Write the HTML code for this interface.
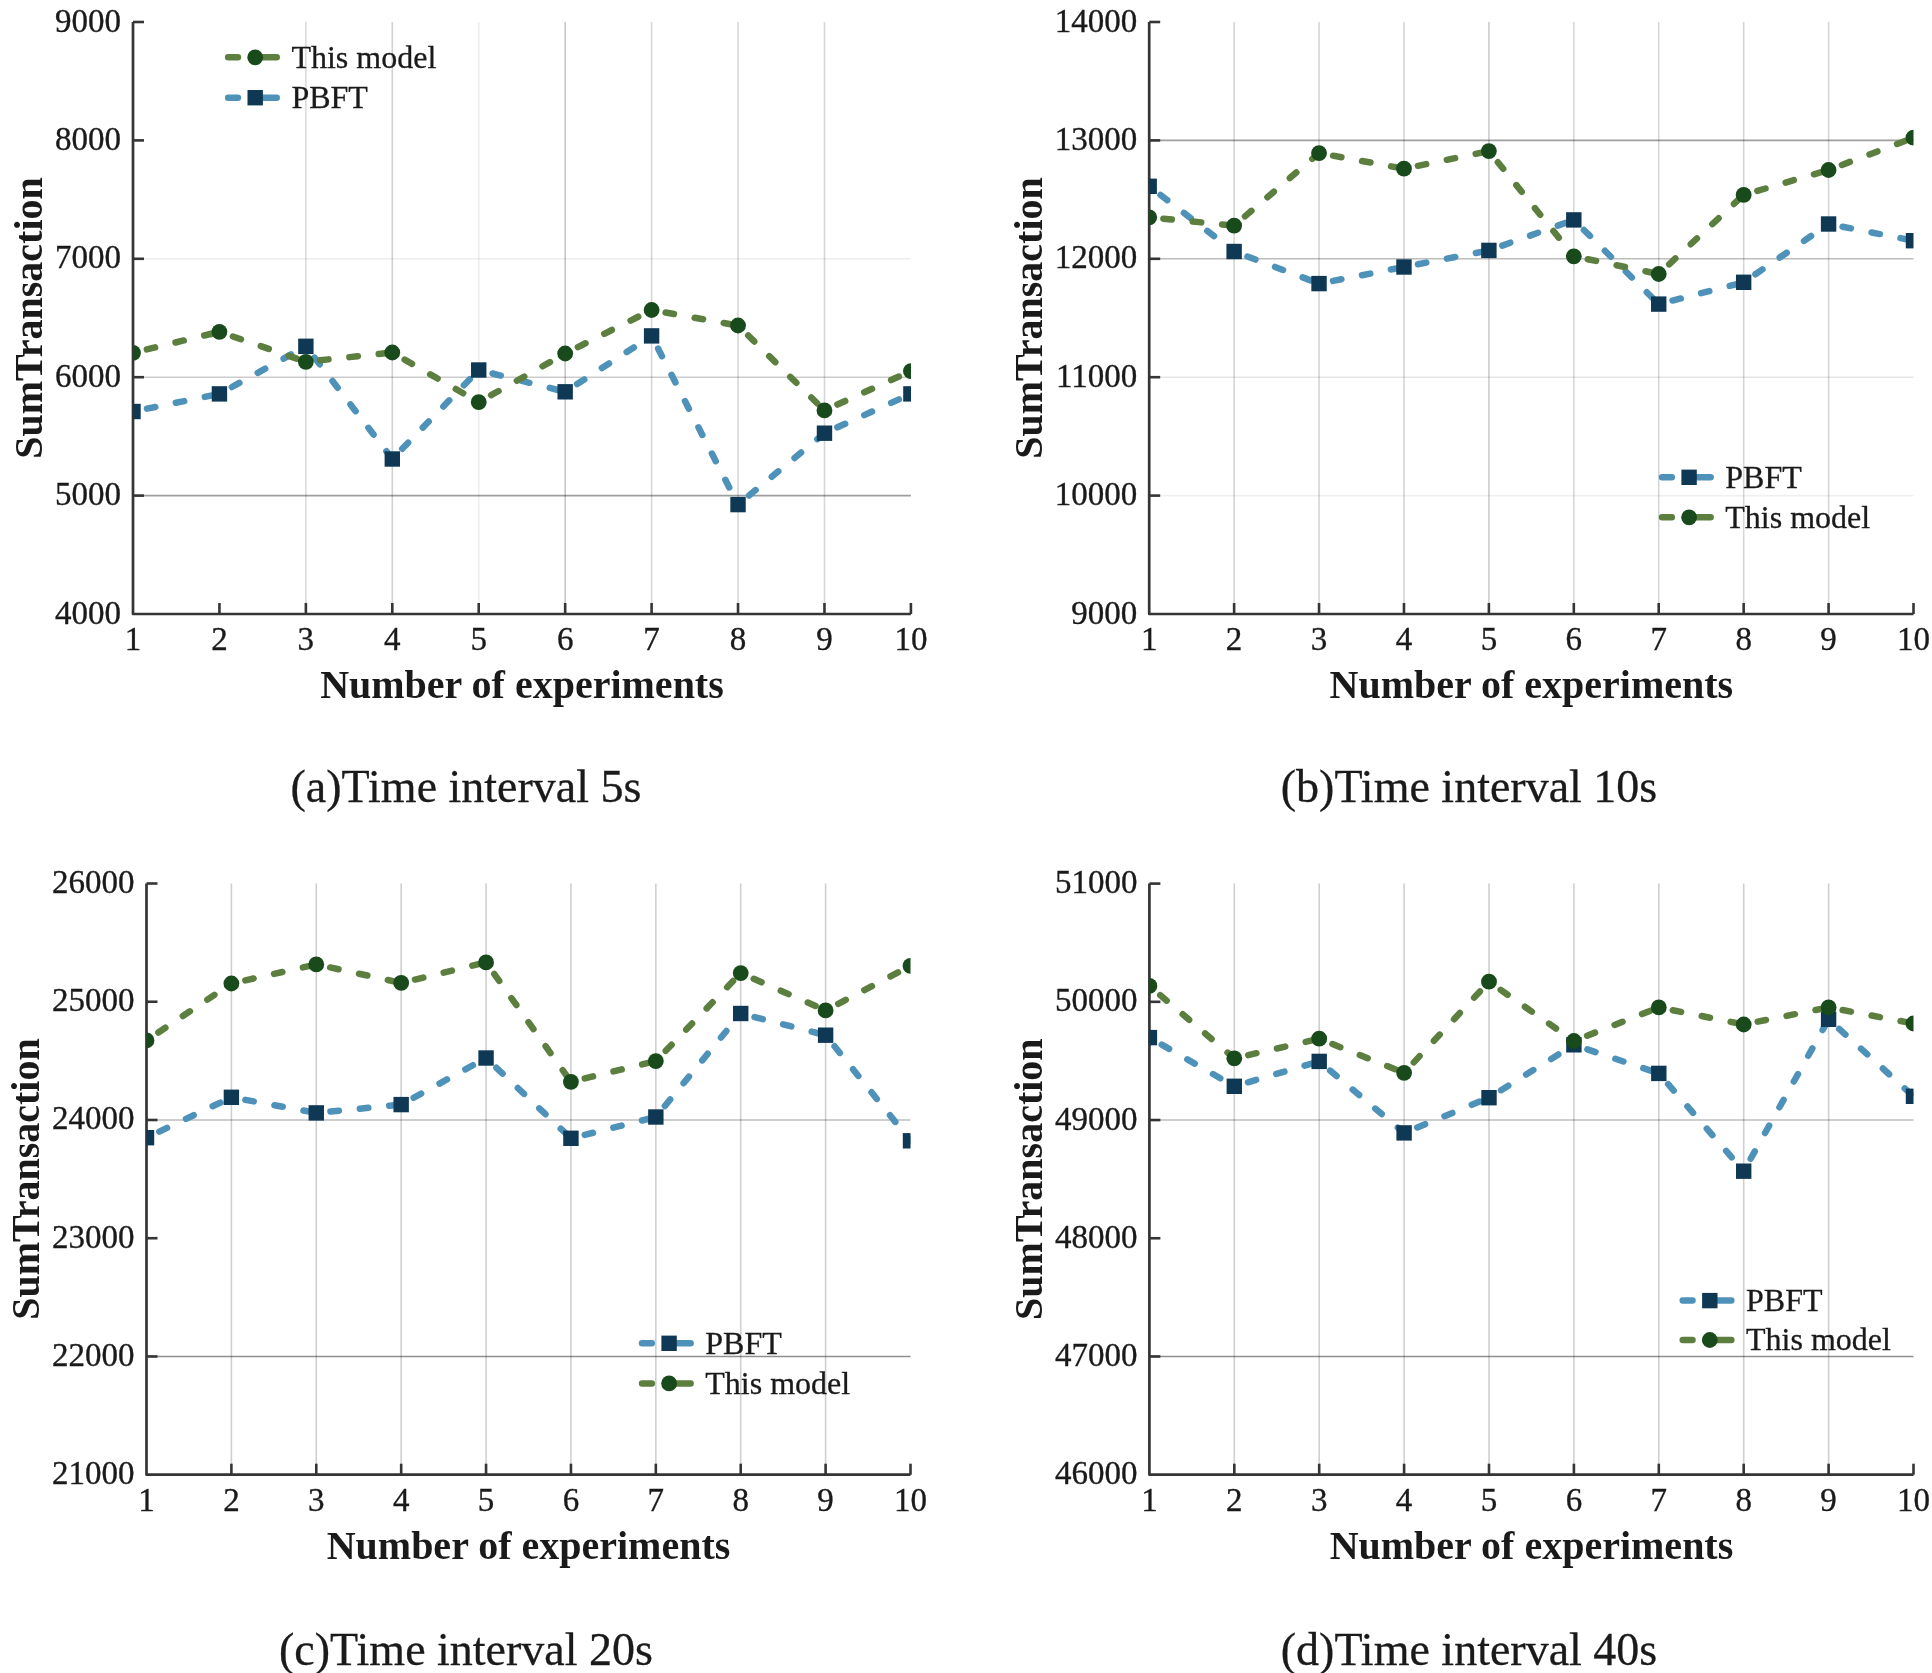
<!DOCTYPE html>
<html><head><meta charset="utf-8"><title>SumTransaction charts</title>
<style>
html,body{margin:0;padding:0;background:#fff;}
svg{display:block;filter:blur(0.5px);}
text{font-family:"Liberation Serif",serif;fill:#1a1a1a;}
.tk{font-size:33px;stroke:#1a1a1a;stroke-width:0.35px;}
.ttl{font-size:40px;font-weight:bold;}
.lg{font-size:32px;stroke:#1a1a1a;stroke-width:0.3px;}
.cap{font-size:46px;stroke:#1a1a1a;stroke-width:0.3px;}
</style></head><body>
<svg width="1932" height="1673" viewBox="0 0 1932 1673">
<rect x="0" y="0" width="1932" height="1673" fill="#fff"/>

<g id="panel-a">
<clipPath id="clip-a"><rect x="133" y="12" width="777.9" height="602"/></clipPath>
<line x1="305.87" y1="22" x2="305.87" y2="614" stroke="#000" stroke-opacity="0.14" stroke-width="1.6"/>
<line x1="392.3" y1="22" x2="392.3" y2="614" stroke="#000" stroke-opacity="0.18" stroke-width="1.6"/>
<line x1="478.73" y1="22" x2="478.73" y2="614" stroke="#000" stroke-opacity="0.07" stroke-width="1.6"/>
<line x1="565.17" y1="22" x2="565.17" y2="614" stroke="#000" stroke-opacity="0.22" stroke-width="1.6"/>
<line x1="651.6" y1="22" x2="651.6" y2="614" stroke="#000" stroke-opacity="0.16" stroke-width="1.6"/>
<line x1="738.03" y1="22" x2="738.03" y2="614" stroke="#000" stroke-opacity="0.16" stroke-width="1.6"/>
<line x1="824.47" y1="22" x2="824.47" y2="614" stroke="#000" stroke-opacity="0.16" stroke-width="1.6"/>
<line x1="133" y1="258.8" x2="910.9" y2="258.8" stroke="#000" stroke-opacity="0.07" stroke-width="1.6"/>
<line x1="133" y1="377.2" x2="910.9" y2="377.2" stroke="#000" stroke-opacity="0.2" stroke-width="1.6"/>
<line x1="133" y1="495.6" x2="910.9" y2="495.6" stroke="#000" stroke-opacity="0.38" stroke-width="1.6"/>
<path d="M133 22 V614 H910.9" fill="none" stroke="#353535" stroke-width="2.7" stroke-linejoin="round"/>
<text class="tk" x="121" y="623.5" text-anchor="end">4000</text>
<line x1="133" y1="495.6" x2="144" y2="495.6" stroke="#353535" stroke-width="2.6"/>
<text class="tk" x="121" y="505.1" text-anchor="end">5000</text>
<line x1="133" y1="377.2" x2="144" y2="377.2" stroke="#353535" stroke-width="2.6"/>
<text class="tk" x="121" y="386.7" text-anchor="end">6000</text>
<line x1="133" y1="258.8" x2="144" y2="258.8" stroke="#353535" stroke-width="2.6"/>
<text class="tk" x="121" y="268.3" text-anchor="end">7000</text>
<line x1="133" y1="140.4" x2="144" y2="140.4" stroke="#353535" stroke-width="2.6"/>
<text class="tk" x="121" y="149.9" text-anchor="end">8000</text>
<line x1="133" y1="22" x2="144" y2="22" stroke="#353535" stroke-width="2.6"/>
<text class="tk" x="121" y="31.5" text-anchor="end">9000</text>
<text class="tk" x="133" y="649.8" text-anchor="middle">1</text>
<line x1="219.43" y1="614" x2="219.43" y2="603" stroke="#353535" stroke-width="2.6"/>
<text class="tk" x="219.43" y="649.8" text-anchor="middle">2</text>
<line x1="305.87" y1="614" x2="305.87" y2="603" stroke="#353535" stroke-width="2.6"/>
<text class="tk" x="305.87" y="649.8" text-anchor="middle">3</text>
<line x1="392.3" y1="614" x2="392.3" y2="603" stroke="#353535" stroke-width="2.6"/>
<text class="tk" x="392.3" y="649.8" text-anchor="middle">4</text>
<line x1="478.73" y1="614" x2="478.73" y2="603" stroke="#353535" stroke-width="2.6"/>
<text class="tk" x="478.73" y="649.8" text-anchor="middle">5</text>
<line x1="565.17" y1="614" x2="565.17" y2="603" stroke="#353535" stroke-width="2.6"/>
<text class="tk" x="565.17" y="649.8" text-anchor="middle">6</text>
<line x1="651.6" y1="614" x2="651.6" y2="603" stroke="#353535" stroke-width="2.6"/>
<text class="tk" x="651.6" y="649.8" text-anchor="middle">7</text>
<line x1="738.03" y1="614" x2="738.03" y2="603" stroke="#353535" stroke-width="2.6"/>
<text class="tk" x="738.03" y="649.8" text-anchor="middle">8</text>
<line x1="824.47" y1="614" x2="824.47" y2="603" stroke="#353535" stroke-width="2.6"/>
<text class="tk" x="824.47" y="649.8" text-anchor="middle">9</text>
<line x1="910.9" y1="614" x2="910.9" y2="603" stroke="#353535" stroke-width="2.6"/>
<text class="tk" x="910.9" y="649.8" text-anchor="middle">10</text>
<text class="ttl" x="521.95" y="698" text-anchor="middle">Number of experiments</text>
<text class="ttl" transform="translate(42 318) rotate(-90)" text-anchor="middle">SumTransaction</text>
<g clip-path="url(#clip-a)">
<line x1="133" y1="411.5" x2="219.43" y2="393.9" stroke="#4f92b9" stroke-width="6.5" stroke-dasharray="8.5 21" stroke-dashoffset="15.25" stroke-linecap="round"/>
<line x1="219.43" y1="393.9" x2="305.87" y2="346.3" stroke="#4f92b9" stroke-width="6.5" stroke-dasharray="8.5 21" stroke-dashoffset="15.25" stroke-linecap="round"/>
<line x1="305.87" y1="346.3" x2="392.3" y2="459" stroke="#4f92b9" stroke-width="6.5" stroke-dasharray="8.5 21" stroke-dashoffset="15.25" stroke-linecap="round"/>
<line x1="392.3" y1="459" x2="478.73" y2="370" stroke="#4f92b9" stroke-width="6.5" stroke-dasharray="8.5 21" stroke-dashoffset="15.25" stroke-linecap="round"/>
<line x1="478.73" y1="370" x2="565.17" y2="391.8" stroke="#4f92b9" stroke-width="6.5" stroke-dasharray="8.5 21" stroke-dashoffset="15.25" stroke-linecap="round"/>
<line x1="565.17" y1="391.8" x2="651.6" y2="335.9" stroke="#4f92b9" stroke-width="6.5" stroke-dasharray="8.5 21" stroke-dashoffset="15.25" stroke-linecap="round"/>
<line x1="651.6" y1="335.9" x2="738.03" y2="504.6" stroke="#4f92b9" stroke-width="6.5" stroke-dasharray="8.5 21" stroke-dashoffset="15.25" stroke-linecap="round"/>
<line x1="738.03" y1="504.6" x2="824.47" y2="433.2" stroke="#4f92b9" stroke-width="6.5" stroke-dasharray="8.5 21" stroke-dashoffset="15.25" stroke-linecap="round"/>
<line x1="824.47" y1="433.2" x2="910.9" y2="393.9" stroke="#4f92b9" stroke-width="6.5" stroke-dasharray="8.5 21" stroke-dashoffset="15.25" stroke-linecap="round"/>
<rect x="125.3" y="403.8" width="15.4" height="15.4" fill="#0f3854"/>
<rect x="211.73" y="386.2" width="15.4" height="15.4" fill="#0f3854"/>
<rect x="298.17" y="338.6" width="15.4" height="15.4" fill="#0f3854"/>
<rect x="384.6" y="451.3" width="15.4" height="15.4" fill="#0f3854"/>
<rect x="471.03" y="362.3" width="15.4" height="15.4" fill="#0f3854"/>
<rect x="557.47" y="384.1" width="15.4" height="15.4" fill="#0f3854"/>
<rect x="643.9" y="328.2" width="15.4" height="15.4" fill="#0f3854"/>
<rect x="730.33" y="496.9" width="15.4" height="15.4" fill="#0f3854"/>
<rect x="816.77" y="425.5" width="15.4" height="15.4" fill="#0f3854"/>
<rect x="903.2" y="386.2" width="15.4" height="15.4" fill="#0f3854"/>
</g>
<g clip-path="url(#clip-a)">
<line x1="133" y1="352.8" x2="219.43" y2="331.8" stroke="#5c7e3e" stroke-width="6.5" stroke-dasharray="8.5 21" stroke-dashoffset="15.25" stroke-linecap="round"/>
<line x1="219.43" y1="331.8" x2="305.87" y2="361.8" stroke="#5c7e3e" stroke-width="6.5" stroke-dasharray="8.5 21" stroke-dashoffset="15.25" stroke-linecap="round"/>
<line x1="305.87" y1="361.8" x2="392.3" y2="352.5" stroke="#5c7e3e" stroke-width="6.5" stroke-dasharray="8.5 21" stroke-dashoffset="15.25" stroke-linecap="round"/>
<line x1="392.3" y1="352.5" x2="478.73" y2="402.2" stroke="#5c7e3e" stroke-width="6.5" stroke-dasharray="8.5 21" stroke-dashoffset="15.25" stroke-linecap="round"/>
<line x1="478.73" y1="402.2" x2="565.17" y2="353.5" stroke="#5c7e3e" stroke-width="6.5" stroke-dasharray="8.5 21" stroke-dashoffset="15.25" stroke-linecap="round"/>
<line x1="565.17" y1="353.5" x2="651.6" y2="310" stroke="#5c7e3e" stroke-width="6.5" stroke-dasharray="8.5 21" stroke-dashoffset="15.25" stroke-linecap="round"/>
<line x1="651.6" y1="310" x2="738.03" y2="325.5" stroke="#5c7e3e" stroke-width="6.5" stroke-dasharray="8.5 21" stroke-dashoffset="15.25" stroke-linecap="round"/>
<line x1="738.03" y1="325.5" x2="824.47" y2="410.4" stroke="#5c7e3e" stroke-width="6.5" stroke-dasharray="8.5 21" stroke-dashoffset="15.25" stroke-linecap="round"/>
<line x1="824.47" y1="410.4" x2="910.9" y2="371.1" stroke="#5c7e3e" stroke-width="6.5" stroke-dasharray="8.5 21" stroke-dashoffset="15.25" stroke-linecap="round"/>
<circle cx="133" cy="352.8" r="7.9" fill="#184a1b"/>
<circle cx="219.43" cy="331.8" r="7.9" fill="#184a1b"/>
<circle cx="305.87" cy="361.8" r="7.9" fill="#184a1b"/>
<circle cx="392.3" cy="352.5" r="7.9" fill="#184a1b"/>
<circle cx="478.73" cy="402.2" r="7.9" fill="#184a1b"/>
<circle cx="565.17" cy="353.5" r="7.9" fill="#184a1b"/>
<circle cx="651.6" cy="310" r="7.9" fill="#184a1b"/>
<circle cx="738.03" cy="325.5" r="7.9" fill="#184a1b"/>
<circle cx="824.47" cy="410.4" r="7.9" fill="#184a1b"/>
<circle cx="910.9" cy="371.1" r="7.9" fill="#184a1b"/>
</g>
<line x1="228.15" y1="57.3" x2="237.9" y2="57.3" stroke="#5c7e3e" stroke-width="6.5" stroke-linecap="round"/>
<line x1="255.2" y1="57.3" x2="276.7" y2="57.3" stroke="#5c7e3e" stroke-width="6.5" stroke-linecap="round"/>
<circle cx="255.2" cy="57.3" r="7.9" fill="#184a1b"/>
<text class="lg" x="291.4" y="67.5">This model</text>
<line x1="228.15" y1="97.7" x2="237.9" y2="97.7" stroke="#4f92b9" stroke-width="6.5" stroke-linecap="round"/>
<line x1="255.2" y1="97.7" x2="276.7" y2="97.7" stroke="#4f92b9" stroke-width="6.5" stroke-linecap="round"/>
<rect x="247.5" y="90" width="15.4" height="15.4" fill="#0f3854"/>
<text class="lg" x="291.4" y="107.9">PBFT</text>
<text class="cap" x="466" y="802.3" text-anchor="middle">(a)Time interval 5s</text>
</g>
<g id="panel-b">
<clipPath id="clip-b"><rect x="1149.2" y="12" width="764.3" height="602"/></clipPath>
<line x1="1234.12" y1="22" x2="1234.12" y2="614" stroke="#000" stroke-opacity="0.17" stroke-width="1.6"/>
<line x1="1319.04" y1="22" x2="1319.04" y2="614" stroke="#000" stroke-opacity="0.17" stroke-width="1.6"/>
<line x1="1403.97" y1="22" x2="1403.97" y2="614" stroke="#000" stroke-opacity="0.17" stroke-width="1.6"/>
<line x1="1488.89" y1="22" x2="1488.89" y2="614" stroke="#000" stroke-opacity="0.2" stroke-width="1.6"/>
<line x1="1573.81" y1="22" x2="1573.81" y2="614" stroke="#000" stroke-opacity="0.16" stroke-width="1.6"/>
<line x1="1658.73" y1="22" x2="1658.73" y2="614" stroke="#000" stroke-opacity="0.16" stroke-width="1.6"/>
<line x1="1743.66" y1="22" x2="1743.66" y2="614" stroke="#000" stroke-opacity="0.16" stroke-width="1.6"/>
<line x1="1828.58" y1="22" x2="1828.58" y2="614" stroke="#000" stroke-opacity="0.16" stroke-width="1.6"/>
<line x1="1149.2" y1="140.4" x2="1913.5" y2="140.4" stroke="#000" stroke-opacity="0.38" stroke-width="1.6"/>
<line x1="1149.2" y1="258.8" x2="1913.5" y2="258.8" stroke="#000" stroke-opacity="0.26" stroke-width="1.6"/>
<line x1="1149.2" y1="377.2" x2="1913.5" y2="377.2" stroke="#000" stroke-opacity="0.1" stroke-width="1.6"/>
<line x1="1149.2" y1="495.6" x2="1913.5" y2="495.6" stroke="#000" stroke-opacity="0.06" stroke-width="1.6"/>
<path d="M1149.2 22 V614 H1913.5" fill="none" stroke="#353535" stroke-width="2.7" stroke-linejoin="round"/>
<text class="tk" x="1137.2" y="623.5" text-anchor="end">9000</text>
<line x1="1149.2" y1="495.6" x2="1160.2" y2="495.6" stroke="#353535" stroke-width="2.6"/>
<text class="tk" x="1137.2" y="505.1" text-anchor="end">10000</text>
<line x1="1149.2" y1="377.2" x2="1160.2" y2="377.2" stroke="#353535" stroke-width="2.6"/>
<text class="tk" x="1137.2" y="386.7" text-anchor="end">11000</text>
<line x1="1149.2" y1="258.8" x2="1160.2" y2="258.8" stroke="#353535" stroke-width="2.6"/>
<text class="tk" x="1137.2" y="268.3" text-anchor="end">12000</text>
<line x1="1149.2" y1="140.4" x2="1160.2" y2="140.4" stroke="#353535" stroke-width="2.6"/>
<text class="tk" x="1137.2" y="149.9" text-anchor="end">13000</text>
<line x1="1149.2" y1="22" x2="1160.2" y2="22" stroke="#353535" stroke-width="2.6"/>
<text class="tk" x="1137.2" y="31.5" text-anchor="end">14000</text>
<text class="tk" x="1149.2" y="649.8" text-anchor="middle">1</text>
<line x1="1234.12" y1="614" x2="1234.12" y2="603" stroke="#353535" stroke-width="2.6"/>
<text class="tk" x="1234.12" y="649.8" text-anchor="middle">2</text>
<line x1="1319.04" y1="614" x2="1319.04" y2="603" stroke="#353535" stroke-width="2.6"/>
<text class="tk" x="1319.04" y="649.8" text-anchor="middle">3</text>
<line x1="1403.97" y1="614" x2="1403.97" y2="603" stroke="#353535" stroke-width="2.6"/>
<text class="tk" x="1403.97" y="649.8" text-anchor="middle">4</text>
<line x1="1488.89" y1="614" x2="1488.89" y2="603" stroke="#353535" stroke-width="2.6"/>
<text class="tk" x="1488.89" y="649.8" text-anchor="middle">5</text>
<line x1="1573.81" y1="614" x2="1573.81" y2="603" stroke="#353535" stroke-width="2.6"/>
<text class="tk" x="1573.81" y="649.8" text-anchor="middle">6</text>
<line x1="1658.73" y1="614" x2="1658.73" y2="603" stroke="#353535" stroke-width="2.6"/>
<text class="tk" x="1658.73" y="649.8" text-anchor="middle">7</text>
<line x1="1743.66" y1="614" x2="1743.66" y2="603" stroke="#353535" stroke-width="2.6"/>
<text class="tk" x="1743.66" y="649.8" text-anchor="middle">8</text>
<line x1="1828.58" y1="614" x2="1828.58" y2="603" stroke="#353535" stroke-width="2.6"/>
<text class="tk" x="1828.58" y="649.8" text-anchor="middle">9</text>
<line x1="1913.5" y1="614" x2="1913.5" y2="603" stroke="#353535" stroke-width="2.6"/>
<text class="tk" x="1913.5" y="649.8" text-anchor="middle">10</text>
<text class="ttl" x="1531.35" y="698" text-anchor="middle">Number of experiments</text>
<text class="ttl" transform="translate(1042.2 318) rotate(-90)" text-anchor="middle">SumTransaction</text>
<g clip-path="url(#clip-b)">
<line x1="1149.2" y1="186.3" x2="1234.12" y2="251.5" stroke="#4f92b9" stroke-width="6.5" stroke-dasharray="8.5 21" stroke-dashoffset="15.25" stroke-linecap="round"/>
<line x1="1234.12" y1="251.5" x2="1319.04" y2="283.6" stroke="#4f92b9" stroke-width="6.5" stroke-dasharray="8.5 21" stroke-dashoffset="15.25" stroke-linecap="round"/>
<line x1="1319.04" y1="283.6" x2="1403.97" y2="267" stroke="#4f92b9" stroke-width="6.5" stroke-dasharray="8.5 21" stroke-dashoffset="15.25" stroke-linecap="round"/>
<line x1="1403.97" y1="267" x2="1488.89" y2="250.4" stroke="#4f92b9" stroke-width="6.5" stroke-dasharray="8.5 21" stroke-dashoffset="15.25" stroke-linecap="round"/>
<line x1="1488.89" y1="250.4" x2="1573.81" y2="219.9" stroke="#4f92b9" stroke-width="6.5" stroke-dasharray="8.5 21" stroke-dashoffset="15.25" stroke-linecap="round"/>
<line x1="1573.81" y1="219.9" x2="1658.73" y2="304.1" stroke="#4f92b9" stroke-width="6.5" stroke-dasharray="8.5 21" stroke-dashoffset="15.25" stroke-linecap="round"/>
<line x1="1658.73" y1="304.1" x2="1743.66" y2="282.3" stroke="#4f92b9" stroke-width="6.5" stroke-dasharray="8.5 21" stroke-dashoffset="15.25" stroke-linecap="round"/>
<line x1="1743.66" y1="282.3" x2="1828.58" y2="224" stroke="#4f92b9" stroke-width="6.5" stroke-dasharray="8.5 21" stroke-dashoffset="15.25" stroke-linecap="round"/>
<line x1="1828.58" y1="224" x2="1913.5" y2="240.7" stroke="#4f92b9" stroke-width="6.5" stroke-dasharray="8.5 21" stroke-dashoffset="15.25" stroke-linecap="round"/>
<rect x="1141.5" y="178.6" width="15.4" height="15.4" fill="#0f3854"/>
<rect x="1226.42" y="243.8" width="15.4" height="15.4" fill="#0f3854"/>
<rect x="1311.34" y="275.9" width="15.4" height="15.4" fill="#0f3854"/>
<rect x="1396.27" y="259.3" width="15.4" height="15.4" fill="#0f3854"/>
<rect x="1481.19" y="242.7" width="15.4" height="15.4" fill="#0f3854"/>
<rect x="1566.11" y="212.2" width="15.4" height="15.4" fill="#0f3854"/>
<rect x="1651.03" y="296.4" width="15.4" height="15.4" fill="#0f3854"/>
<rect x="1735.96" y="274.6" width="15.4" height="15.4" fill="#0f3854"/>
<rect x="1820.88" y="216.3" width="15.4" height="15.4" fill="#0f3854"/>
<rect x="1905.8" y="233" width="15.4" height="15.4" fill="#0f3854"/>
</g>
<g clip-path="url(#clip-b)">
<line x1="1149.2" y1="217.3" x2="1234.12" y2="225.6" stroke="#5c7e3e" stroke-width="6.5" stroke-dasharray="8.5 21" stroke-dashoffset="15.25" stroke-linecap="round"/>
<line x1="1234.12" y1="225.6" x2="1319.04" y2="153.1" stroke="#5c7e3e" stroke-width="6.5" stroke-dasharray="8.5 21" stroke-dashoffset="15.25" stroke-linecap="round"/>
<line x1="1319.04" y1="153.1" x2="1403.97" y2="168.7" stroke="#5c7e3e" stroke-width="6.5" stroke-dasharray="8.5 21" stroke-dashoffset="15.25" stroke-linecap="round"/>
<line x1="1403.97" y1="168.7" x2="1488.89" y2="151.1" stroke="#5c7e3e" stroke-width="6.5" stroke-dasharray="8.5 21" stroke-dashoffset="15.25" stroke-linecap="round"/>
<line x1="1488.89" y1="151.1" x2="1573.81" y2="256.3" stroke="#5c7e3e" stroke-width="6.5" stroke-dasharray="8.5 21" stroke-dashoffset="15.25" stroke-linecap="round"/>
<line x1="1573.81" y1="256.3" x2="1658.73" y2="274" stroke="#5c7e3e" stroke-width="6.5" stroke-dasharray="8.5 21" stroke-dashoffset="15.25" stroke-linecap="round"/>
<line x1="1658.73" y1="274" x2="1743.66" y2="194.9" stroke="#5c7e3e" stroke-width="6.5" stroke-dasharray="8.5 21" stroke-dashoffset="15.25" stroke-linecap="round"/>
<line x1="1743.66" y1="194.9" x2="1828.58" y2="170" stroke="#5c7e3e" stroke-width="6.5" stroke-dasharray="8.5 21" stroke-dashoffset="15.25" stroke-linecap="round"/>
<line x1="1828.58" y1="170" x2="1913.5" y2="137.7" stroke="#5c7e3e" stroke-width="6.5" stroke-dasharray="8.5 21" stroke-dashoffset="15.25" stroke-linecap="round"/>
<circle cx="1149.2" cy="217.3" r="7.9" fill="#184a1b"/>
<circle cx="1234.12" cy="225.6" r="7.9" fill="#184a1b"/>
<circle cx="1319.04" cy="153.1" r="7.9" fill="#184a1b"/>
<circle cx="1403.97" cy="168.7" r="7.9" fill="#184a1b"/>
<circle cx="1488.89" cy="151.1" r="7.9" fill="#184a1b"/>
<circle cx="1573.81" cy="256.3" r="7.9" fill="#184a1b"/>
<circle cx="1658.73" cy="274" r="7.9" fill="#184a1b"/>
<circle cx="1743.66" cy="194.9" r="7.9" fill="#184a1b"/>
<circle cx="1828.58" cy="170" r="7.9" fill="#184a1b"/>
<circle cx="1913.5" cy="137.7" r="7.9" fill="#184a1b"/>
</g>
<line x1="1662.05" y1="477.3" x2="1671.8" y2="477.3" stroke="#4f92b9" stroke-width="6.5" stroke-linecap="round"/>
<line x1="1689.1" y1="477.3" x2="1710.6" y2="477.3" stroke="#4f92b9" stroke-width="6.5" stroke-linecap="round"/>
<rect x="1681.4" y="469.6" width="15.4" height="15.4" fill="#0f3854"/>
<text class="lg" x="1725.3" y="487.5">PBFT</text>
<line x1="1662.05" y1="517.3" x2="1671.8" y2="517.3" stroke="#5c7e3e" stroke-width="6.5" stroke-linecap="round"/>
<line x1="1689.1" y1="517.3" x2="1710.6" y2="517.3" stroke="#5c7e3e" stroke-width="6.5" stroke-linecap="round"/>
<circle cx="1689.1" cy="517.3" r="7.9" fill="#184a1b"/>
<text class="lg" x="1725.3" y="527.5">This model</text>
<text class="cap" x="1469" y="802.3" text-anchor="middle">(b)Time interval 10s</text>
</g>
<g id="panel-c">
<clipPath id="clip-c"><rect x="146.5" y="873.5" width="764" height="601.2"/></clipPath>
<line x1="231.39" y1="883.5" x2="231.39" y2="1474.7" stroke="#000" stroke-opacity="0.19" stroke-width="1.6"/>
<line x1="316.28" y1="883.5" x2="316.28" y2="1474.7" stroke="#000" stroke-opacity="0.19" stroke-width="1.6"/>
<line x1="401.17" y1="883.5" x2="401.17" y2="1474.7" stroke="#000" stroke-opacity="0.19" stroke-width="1.6"/>
<line x1="486.06" y1="883.5" x2="486.06" y2="1474.7" stroke="#000" stroke-opacity="0.19" stroke-width="1.6"/>
<line x1="570.94" y1="883.5" x2="570.94" y2="1474.7" stroke="#000" stroke-opacity="0.19" stroke-width="1.6"/>
<line x1="655.83" y1="883.5" x2="655.83" y2="1474.7" stroke="#000" stroke-opacity="0.19" stroke-width="1.6"/>
<line x1="740.72" y1="883.5" x2="740.72" y2="1474.7" stroke="#000" stroke-opacity="0.19" stroke-width="1.6"/>
<line x1="825.61" y1="883.5" x2="825.61" y2="1474.7" stroke="#000" stroke-opacity="0.19" stroke-width="1.6"/>
<line x1="146.5" y1="1119.98" x2="910.5" y2="1119.98" stroke="#000" stroke-opacity="0.26" stroke-width="1.6"/>
<line x1="146.5" y1="1356.46" x2="910.5" y2="1356.46" stroke="#000" stroke-opacity="0.44" stroke-width="1.6"/>
<path d="M146.5 883.5 V1474.7 H910.5" fill="none" stroke="#353535" stroke-width="2.7" stroke-linejoin="round"/>
<text class="tk" x="134.5" y="1484.2" text-anchor="end">21000</text>
<line x1="146.5" y1="1356.46" x2="157.5" y2="1356.46" stroke="#353535" stroke-width="2.6"/>
<text class="tk" x="134.5" y="1365.96" text-anchor="end">22000</text>
<line x1="146.5" y1="1238.22" x2="157.5" y2="1238.22" stroke="#353535" stroke-width="2.6"/>
<text class="tk" x="134.5" y="1247.72" text-anchor="end">23000</text>
<line x1="146.5" y1="1119.98" x2="157.5" y2="1119.98" stroke="#353535" stroke-width="2.6"/>
<text class="tk" x="134.5" y="1129.48" text-anchor="end">24000</text>
<line x1="146.5" y1="1001.74" x2="157.5" y2="1001.74" stroke="#353535" stroke-width="2.6"/>
<text class="tk" x="134.5" y="1011.24" text-anchor="end">25000</text>
<line x1="146.5" y1="883.5" x2="157.5" y2="883.5" stroke="#353535" stroke-width="2.6"/>
<text class="tk" x="134.5" y="893" text-anchor="end">26000</text>
<text class="tk" x="146.5" y="1510.5" text-anchor="middle">1</text>
<line x1="231.39" y1="1474.7" x2="231.39" y2="1463.7" stroke="#353535" stroke-width="2.6"/>
<text class="tk" x="231.39" y="1510.5" text-anchor="middle">2</text>
<line x1="316.28" y1="1474.7" x2="316.28" y2="1463.7" stroke="#353535" stroke-width="2.6"/>
<text class="tk" x="316.28" y="1510.5" text-anchor="middle">3</text>
<line x1="401.17" y1="1474.7" x2="401.17" y2="1463.7" stroke="#353535" stroke-width="2.6"/>
<text class="tk" x="401.17" y="1510.5" text-anchor="middle">4</text>
<line x1="486.06" y1="1474.7" x2="486.06" y2="1463.7" stroke="#353535" stroke-width="2.6"/>
<text class="tk" x="486.06" y="1510.5" text-anchor="middle">5</text>
<line x1="570.94" y1="1474.7" x2="570.94" y2="1463.7" stroke="#353535" stroke-width="2.6"/>
<text class="tk" x="570.94" y="1510.5" text-anchor="middle">6</text>
<line x1="655.83" y1="1474.7" x2="655.83" y2="1463.7" stroke="#353535" stroke-width="2.6"/>
<text class="tk" x="655.83" y="1510.5" text-anchor="middle">7</text>
<line x1="740.72" y1="1474.7" x2="740.72" y2="1463.7" stroke="#353535" stroke-width="2.6"/>
<text class="tk" x="740.72" y="1510.5" text-anchor="middle">8</text>
<line x1="825.61" y1="1474.7" x2="825.61" y2="1463.7" stroke="#353535" stroke-width="2.6"/>
<text class="tk" x="825.61" y="1510.5" text-anchor="middle">9</text>
<line x1="910.5" y1="1474.7" x2="910.5" y2="1463.7" stroke="#353535" stroke-width="2.6"/>
<text class="tk" x="910.5" y="1510.5" text-anchor="middle">10</text>
<text class="ttl" x="528.5" y="1558.7" text-anchor="middle">Number of experiments</text>
<text class="ttl" transform="translate(38.7 1179.1) rotate(-90)" text-anchor="middle">SumTransaction</text>
<g clip-path="url(#clip-c)">
<line x1="146.5" y1="1137.7" x2="231.39" y2="1097.3" stroke="#4f92b9" stroke-width="6.5" stroke-dasharray="8.5 21" stroke-dashoffset="15.25" stroke-linecap="round"/>
<line x1="231.39" y1="1097.3" x2="316.28" y2="1112.9" stroke="#4f92b9" stroke-width="6.5" stroke-dasharray="8.5 21" stroke-dashoffset="15.25" stroke-linecap="round"/>
<line x1="316.28" y1="1112.9" x2="401.17" y2="1104.6" stroke="#4f92b9" stroke-width="6.5" stroke-dasharray="8.5 21" stroke-dashoffset="15.25" stroke-linecap="round"/>
<line x1="401.17" y1="1104.6" x2="486.06" y2="1058" stroke="#4f92b9" stroke-width="6.5" stroke-dasharray="8.5 21" stroke-dashoffset="15.25" stroke-linecap="round"/>
<line x1="486.06" y1="1058" x2="570.94" y2="1138.3" stroke="#4f92b9" stroke-width="6.5" stroke-dasharray="8.5 21" stroke-dashoffset="15.25" stroke-linecap="round"/>
<line x1="570.94" y1="1138.3" x2="655.83" y2="1117" stroke="#4f92b9" stroke-width="6.5" stroke-dasharray="8.5 21" stroke-dashoffset="15.25" stroke-linecap="round"/>
<line x1="655.83" y1="1117" x2="740.72" y2="1013.5" stroke="#4f92b9" stroke-width="6.5" stroke-dasharray="8.5 21" stroke-dashoffset="15.25" stroke-linecap="round"/>
<line x1="740.72" y1="1013.5" x2="825.61" y2="1035.2" stroke="#4f92b9" stroke-width="6.5" stroke-dasharray="8.5 21" stroke-dashoffset="15.25" stroke-linecap="round"/>
<line x1="825.61" y1="1035.2" x2="910.5" y2="1140.8" stroke="#4f92b9" stroke-width="6.5" stroke-dasharray="8.5 21" stroke-dashoffset="15.25" stroke-linecap="round"/>
<rect x="138.8" y="1130" width="15.4" height="15.4" fill="#0f3854"/>
<rect x="223.69" y="1089.6" width="15.4" height="15.4" fill="#0f3854"/>
<rect x="308.58" y="1105.2" width="15.4" height="15.4" fill="#0f3854"/>
<rect x="393.47" y="1096.9" width="15.4" height="15.4" fill="#0f3854"/>
<rect x="478.36" y="1050.3" width="15.4" height="15.4" fill="#0f3854"/>
<rect x="563.24" y="1130.6" width="15.4" height="15.4" fill="#0f3854"/>
<rect x="648.13" y="1109.3" width="15.4" height="15.4" fill="#0f3854"/>
<rect x="733.02" y="1005.8" width="15.4" height="15.4" fill="#0f3854"/>
<rect x="817.91" y="1027.5" width="15.4" height="15.4" fill="#0f3854"/>
<rect x="902.8" y="1133.1" width="15.4" height="15.4" fill="#0f3854"/>
</g>
<g clip-path="url(#clip-c)">
<line x1="146.5" y1="1040.4" x2="231.39" y2="983.5" stroke="#5c7e3e" stroke-width="6.5" stroke-dasharray="8.5 21" stroke-dashoffset="15.25" stroke-linecap="round"/>
<line x1="231.39" y1="983.5" x2="316.28" y2="964.4" stroke="#5c7e3e" stroke-width="6.5" stroke-dasharray="8.5 21" stroke-dashoffset="15.25" stroke-linecap="round"/>
<line x1="316.28" y1="964.4" x2="401.17" y2="982.9" stroke="#5c7e3e" stroke-width="6.5" stroke-dasharray="8.5 21" stroke-dashoffset="15.25" stroke-linecap="round"/>
<line x1="401.17" y1="982.9" x2="486.06" y2="962.4" stroke="#5c7e3e" stroke-width="6.5" stroke-dasharray="8.5 21" stroke-dashoffset="15.25" stroke-linecap="round"/>
<line x1="486.06" y1="962.4" x2="570.94" y2="1081.8" stroke="#5c7e3e" stroke-width="6.5" stroke-dasharray="8.5 21" stroke-dashoffset="15.25" stroke-linecap="round"/>
<line x1="570.94" y1="1081.8" x2="655.83" y2="1061.1" stroke="#5c7e3e" stroke-width="6.5" stroke-dasharray="8.5 21" stroke-dashoffset="15.25" stroke-linecap="round"/>
<line x1="655.83" y1="1061.1" x2="740.72" y2="973.1" stroke="#5c7e3e" stroke-width="6.5" stroke-dasharray="8.5 21" stroke-dashoffset="15.25" stroke-linecap="round"/>
<line x1="740.72" y1="973.1" x2="825.61" y2="1010.4" stroke="#5c7e3e" stroke-width="6.5" stroke-dasharray="8.5 21" stroke-dashoffset="15.25" stroke-linecap="round"/>
<line x1="825.61" y1="1010.4" x2="910.5" y2="965.9" stroke="#5c7e3e" stroke-width="6.5" stroke-dasharray="8.5 21" stroke-dashoffset="15.25" stroke-linecap="round"/>
<circle cx="146.5" cy="1040.4" r="7.9" fill="#184a1b"/>
<circle cx="231.39" cy="983.5" r="7.9" fill="#184a1b"/>
<circle cx="316.28" cy="964.4" r="7.9" fill="#184a1b"/>
<circle cx="401.17" cy="982.9" r="7.9" fill="#184a1b"/>
<circle cx="486.06" cy="962.4" r="7.9" fill="#184a1b"/>
<circle cx="570.94" cy="1081.8" r="7.9" fill="#184a1b"/>
<circle cx="655.83" cy="1061.1" r="7.9" fill="#184a1b"/>
<circle cx="740.72" cy="973.1" r="7.9" fill="#184a1b"/>
<circle cx="825.61" cy="1010.4" r="7.9" fill="#184a1b"/>
<circle cx="910.5" cy="965.9" r="7.9" fill="#184a1b"/>
</g>
<line x1="642.05" y1="1343.3" x2="651.8" y2="1343.3" stroke="#4f92b9" stroke-width="6.5" stroke-linecap="round"/>
<line x1="669.1" y1="1343.3" x2="690.6" y2="1343.3" stroke="#4f92b9" stroke-width="6.5" stroke-linecap="round"/>
<rect x="661.4" y="1335.6" width="15.4" height="15.4" fill="#0f3854"/>
<text class="lg" x="705.3" y="1353.5">PBFT</text>
<line x1="642.05" y1="1383.4" x2="651.8" y2="1383.4" stroke="#5c7e3e" stroke-width="6.5" stroke-linecap="round"/>
<line x1="669.1" y1="1383.4" x2="690.6" y2="1383.4" stroke="#5c7e3e" stroke-width="6.5" stroke-linecap="round"/>
<circle cx="669.1" cy="1383.4" r="7.9" fill="#184a1b"/>
<text class="lg" x="705.3" y="1393.6">This model</text>
<text class="cap" x="466" y="1665.2" text-anchor="middle">(c)Time interval 20s</text>
</g>
<g id="panel-d">
<clipPath id="clip-d"><rect x="1149.4" y="873.6" width="764.1" height="601.1"/></clipPath>
<line x1="1234.3" y1="883.6" x2="1234.3" y2="1474.7" stroke="#000" stroke-opacity="0.19" stroke-width="1.6"/>
<line x1="1319.2" y1="883.6" x2="1319.2" y2="1474.7" stroke="#000" stroke-opacity="0.19" stroke-width="1.6"/>
<line x1="1404.1" y1="883.6" x2="1404.1" y2="1474.7" stroke="#000" stroke-opacity="0.19" stroke-width="1.6"/>
<line x1="1489" y1="883.6" x2="1489" y2="1474.7" stroke="#000" stroke-opacity="0.19" stroke-width="1.6"/>
<line x1="1573.9" y1="883.6" x2="1573.9" y2="1474.7" stroke="#000" stroke-opacity="0.19" stroke-width="1.6"/>
<line x1="1658.8" y1="883.6" x2="1658.8" y2="1474.7" stroke="#000" stroke-opacity="0.19" stroke-width="1.6"/>
<line x1="1743.7" y1="883.6" x2="1743.7" y2="1474.7" stroke="#000" stroke-opacity="0.19" stroke-width="1.6"/>
<line x1="1828.6" y1="883.6" x2="1828.6" y2="1474.7" stroke="#000" stroke-opacity="0.19" stroke-width="1.6"/>
<line x1="1149.4" y1="1120.04" x2="1913.5" y2="1120.04" stroke="#000" stroke-opacity="0.26" stroke-width="1.6"/>
<line x1="1149.4" y1="1356.48" x2="1913.5" y2="1356.48" stroke="#000" stroke-opacity="0.44" stroke-width="1.6"/>
<path d="M1149.4 883.6 V1474.7 H1913.5" fill="none" stroke="#353535" stroke-width="2.7" stroke-linejoin="round"/>
<text class="tk" x="1137.4" y="1484.2" text-anchor="end">46000</text>
<line x1="1149.4" y1="1356.48" x2="1160.4" y2="1356.48" stroke="#353535" stroke-width="2.6"/>
<text class="tk" x="1137.4" y="1365.98" text-anchor="end">47000</text>
<line x1="1149.4" y1="1238.26" x2="1160.4" y2="1238.26" stroke="#353535" stroke-width="2.6"/>
<text class="tk" x="1137.4" y="1247.76" text-anchor="end">48000</text>
<line x1="1149.4" y1="1120.04" x2="1160.4" y2="1120.04" stroke="#353535" stroke-width="2.6"/>
<text class="tk" x="1137.4" y="1129.54" text-anchor="end">49000</text>
<line x1="1149.4" y1="1001.82" x2="1160.4" y2="1001.82" stroke="#353535" stroke-width="2.6"/>
<text class="tk" x="1137.4" y="1011.32" text-anchor="end">50000</text>
<line x1="1149.4" y1="883.6" x2="1160.4" y2="883.6" stroke="#353535" stroke-width="2.6"/>
<text class="tk" x="1137.4" y="893.1" text-anchor="end">51000</text>
<text class="tk" x="1149.4" y="1510.5" text-anchor="middle">1</text>
<line x1="1234.3" y1="1474.7" x2="1234.3" y2="1463.7" stroke="#353535" stroke-width="2.6"/>
<text class="tk" x="1234.3" y="1510.5" text-anchor="middle">2</text>
<line x1="1319.2" y1="1474.7" x2="1319.2" y2="1463.7" stroke="#353535" stroke-width="2.6"/>
<text class="tk" x="1319.2" y="1510.5" text-anchor="middle">3</text>
<line x1="1404.1" y1="1474.7" x2="1404.1" y2="1463.7" stroke="#353535" stroke-width="2.6"/>
<text class="tk" x="1404.1" y="1510.5" text-anchor="middle">4</text>
<line x1="1489" y1="1474.7" x2="1489" y2="1463.7" stroke="#353535" stroke-width="2.6"/>
<text class="tk" x="1489" y="1510.5" text-anchor="middle">5</text>
<line x1="1573.9" y1="1474.7" x2="1573.9" y2="1463.7" stroke="#353535" stroke-width="2.6"/>
<text class="tk" x="1573.9" y="1510.5" text-anchor="middle">6</text>
<line x1="1658.8" y1="1474.7" x2="1658.8" y2="1463.7" stroke="#353535" stroke-width="2.6"/>
<text class="tk" x="1658.8" y="1510.5" text-anchor="middle">7</text>
<line x1="1743.7" y1="1474.7" x2="1743.7" y2="1463.7" stroke="#353535" stroke-width="2.6"/>
<text class="tk" x="1743.7" y="1510.5" text-anchor="middle">8</text>
<line x1="1828.6" y1="1474.7" x2="1828.6" y2="1463.7" stroke="#353535" stroke-width="2.6"/>
<text class="tk" x="1828.6" y="1510.5" text-anchor="middle">9</text>
<line x1="1913.5" y1="1474.7" x2="1913.5" y2="1463.7" stroke="#353535" stroke-width="2.6"/>
<text class="tk" x="1913.5" y="1510.5" text-anchor="middle">10</text>
<text class="ttl" x="1531.45" y="1558.7" text-anchor="middle">Number of experiments</text>
<text class="ttl" transform="translate(1042.2 1179.15) rotate(-90)" text-anchor="middle">SumTransaction</text>
<g clip-path="url(#clip-d)">
<line x1="1149.4" y1="1037.6" x2="1234.3" y2="1086.3" stroke="#4f92b9" stroke-width="6.5" stroke-dasharray="8.5 21" stroke-dashoffset="15.25" stroke-linecap="round"/>
<line x1="1234.3" y1="1086.3" x2="1319.2" y2="1061.4" stroke="#4f92b9" stroke-width="6.5" stroke-dasharray="8.5 21" stroke-dashoffset="15.25" stroke-linecap="round"/>
<line x1="1319.2" y1="1061.4" x2="1404.1" y2="1132.9" stroke="#4f92b9" stroke-width="6.5" stroke-dasharray="8.5 21" stroke-dashoffset="15.25" stroke-linecap="round"/>
<line x1="1404.1" y1="1132.9" x2="1489" y2="1097.7" stroke="#4f92b9" stroke-width="6.5" stroke-dasharray="8.5 21" stroke-dashoffset="15.25" stroke-linecap="round"/>
<line x1="1489" y1="1097.7" x2="1573.9" y2="1044.8" stroke="#4f92b9" stroke-width="6.5" stroke-dasharray="8.5 21" stroke-dashoffset="15.25" stroke-linecap="round"/>
<line x1="1573.9" y1="1044.8" x2="1658.8" y2="1073.4" stroke="#4f92b9" stroke-width="6.5" stroke-dasharray="8.5 21" stroke-dashoffset="15.25" stroke-linecap="round"/>
<line x1="1658.8" y1="1073.4" x2="1743.7" y2="1171.2" stroke="#4f92b9" stroke-width="6.5" stroke-dasharray="8.5 21" stroke-dashoffset="15.25" stroke-linecap="round"/>
<line x1="1743.7" y1="1171.2" x2="1828.6" y2="1019.3" stroke="#4f92b9" stroke-width="6.5" stroke-dasharray="8.5 21" stroke-dashoffset="15.25" stroke-linecap="round"/>
<line x1="1828.6" y1="1019.3" x2="1913.5" y2="1096.3" stroke="#4f92b9" stroke-width="6.5" stroke-dasharray="8.5 21" stroke-dashoffset="15.25" stroke-linecap="round"/>
<rect x="1141.7" y="1029.9" width="15.4" height="15.4" fill="#0f3854"/>
<rect x="1226.6" y="1078.6" width="15.4" height="15.4" fill="#0f3854"/>
<rect x="1311.5" y="1053.7" width="15.4" height="15.4" fill="#0f3854"/>
<rect x="1396.4" y="1125.2" width="15.4" height="15.4" fill="#0f3854"/>
<rect x="1481.3" y="1090" width="15.4" height="15.4" fill="#0f3854"/>
<rect x="1566.2" y="1037.1" width="15.4" height="15.4" fill="#0f3854"/>
<rect x="1651.1" y="1065.7" width="15.4" height="15.4" fill="#0f3854"/>
<rect x="1736" y="1163.5" width="15.4" height="15.4" fill="#0f3854"/>
<rect x="1820.9" y="1011.6" width="15.4" height="15.4" fill="#0f3854"/>
<rect x="1905.8" y="1088.6" width="15.4" height="15.4" fill="#0f3854"/>
</g>
<g clip-path="url(#clip-d)">
<line x1="1149.4" y1="985.9" x2="1234.3" y2="1058.3" stroke="#5c7e3e" stroke-width="6.5" stroke-dasharray="8.5 21" stroke-dashoffset="15.25" stroke-linecap="round"/>
<line x1="1234.3" y1="1058.3" x2="1319.2" y2="1038.7" stroke="#5c7e3e" stroke-width="6.5" stroke-dasharray="8.5 21" stroke-dashoffset="15.25" stroke-linecap="round"/>
<line x1="1319.2" y1="1038.7" x2="1404.1" y2="1072.8" stroke="#5c7e3e" stroke-width="6.5" stroke-dasharray="8.5 21" stroke-dashoffset="15.25" stroke-linecap="round"/>
<line x1="1404.1" y1="1072.8" x2="1489" y2="981.7" stroke="#5c7e3e" stroke-width="6.5" stroke-dasharray="8.5 21" stroke-dashoffset="15.25" stroke-linecap="round"/>
<line x1="1489" y1="981.7" x2="1573.9" y2="1041" stroke="#5c7e3e" stroke-width="6.5" stroke-dasharray="8.5 21" stroke-dashoffset="15.25" stroke-linecap="round"/>
<line x1="1573.9" y1="1041" x2="1658.8" y2="1007.4" stroke="#5c7e3e" stroke-width="6.5" stroke-dasharray="8.5 21" stroke-dashoffset="15.25" stroke-linecap="round"/>
<line x1="1658.8" y1="1007.4" x2="1743.7" y2="1024.5" stroke="#5c7e3e" stroke-width="6.5" stroke-dasharray="8.5 21" stroke-dashoffset="15.25" stroke-linecap="round"/>
<line x1="1743.7" y1="1024.5" x2="1828.6" y2="1007.4" stroke="#5c7e3e" stroke-width="6.5" stroke-dasharray="8.5 21" stroke-dashoffset="15.25" stroke-linecap="round"/>
<line x1="1828.6" y1="1007.4" x2="1913.5" y2="1023.5" stroke="#5c7e3e" stroke-width="6.5" stroke-dasharray="8.5 21" stroke-dashoffset="15.25" stroke-linecap="round"/>
<circle cx="1149.4" cy="985.9" r="7.9" fill="#184a1b"/>
<circle cx="1234.3" cy="1058.3" r="7.9" fill="#184a1b"/>
<circle cx="1319.2" cy="1038.7" r="7.9" fill="#184a1b"/>
<circle cx="1404.1" cy="1072.8" r="7.9" fill="#184a1b"/>
<circle cx="1489" cy="981.7" r="7.9" fill="#184a1b"/>
<circle cx="1573.9" cy="1041" r="7.9" fill="#184a1b"/>
<circle cx="1658.8" cy="1007.4" r="7.9" fill="#184a1b"/>
<circle cx="1743.7" cy="1024.5" r="7.9" fill="#184a1b"/>
<circle cx="1828.6" cy="1007.4" r="7.9" fill="#184a1b"/>
<circle cx="1913.5" cy="1023.5" r="7.9" fill="#184a1b"/>
</g>
<line x1="1682.75" y1="1300.6" x2="1692.5" y2="1300.6" stroke="#4f92b9" stroke-width="6.5" stroke-linecap="round"/>
<line x1="1709.8" y1="1300.6" x2="1731.3" y2="1300.6" stroke="#4f92b9" stroke-width="6.5" stroke-linecap="round"/>
<rect x="1702.1" y="1292.9" width="15.4" height="15.4" fill="#0f3854"/>
<text class="lg" x="1746" y="1310.8">PBFT</text>
<line x1="1682.75" y1="1340" x2="1692.5" y2="1340" stroke="#5c7e3e" stroke-width="6.5" stroke-linecap="round"/>
<line x1="1709.8" y1="1340" x2="1731.3" y2="1340" stroke="#5c7e3e" stroke-width="6.5" stroke-linecap="round"/>
<circle cx="1709.8" cy="1340" r="7.9" fill="#184a1b"/>
<text class="lg" x="1746" y="1350.2">This model</text>
<text class="cap" x="1469" y="1665.2" text-anchor="middle">(d)Time interval 40s</text>
</g>
</svg>
</body></html>
